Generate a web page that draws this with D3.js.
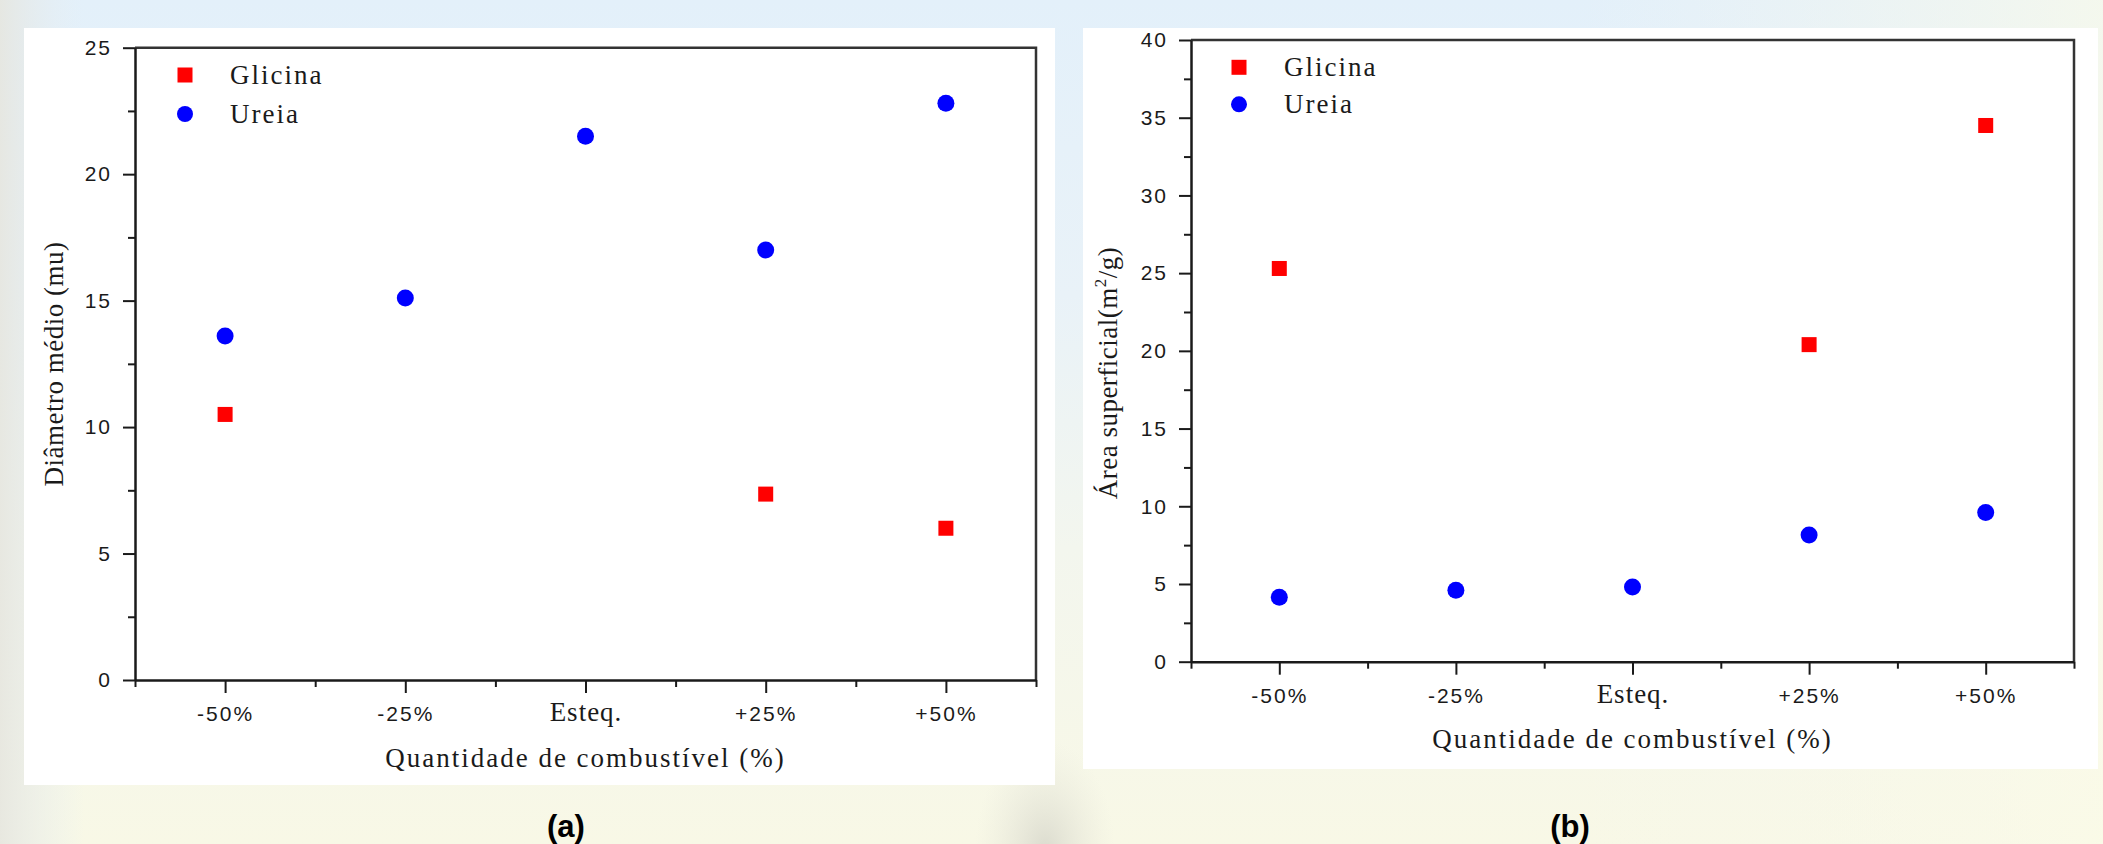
<!DOCTYPE html>
<html>
<head>
<meta charset="utf-8">
<script src="https://cdn.jsdelivr.net/npm/d3@7/dist/d3.min.js"></script>
<style>
  html, body { margin: 0; padding: 0; overflow: hidden; }
  svg { display: block; }
</style>
</head>
<body>
<script>
// ---------------- data ----------------
const categories = ["-50%", "-25%", "Esteq.", "+25%", "+50%"];
const seriesNames = ["Glicina", "Ureia"];
// (a) Diâmetro médio (nm)
const diamGlicina = [10.5, null, null, 7.35, 6.0];
const diamUreia   = [13.6, 15.1, 21.5, 17.0, 22.8];
// (b) Área superficial (m²/g)
const areaGlicina = [25.3, null, null, 20.4, 34.5];
const areaUreia   = [4.15, 4.6, 4.8, 8.15, 9.6];
// tick labels
const yTicksA = [0, 5, 10, 15, 20, 25];
const yTicksB = [0, 5, 10, 15, 20, 25, 30, 35, 40];
const xTitle = "Quantidade de combustível (%)";
const yTitleA = "Diâmetro médio (mu)";
const panelLabels = ["(a)", "(b)"];

// ---------------- layout ----------------
const W = 2103, H = 844;
const svg = d3.select("body").append("svg").attr("width", W).attr("height", H);
const defs = svg.append("defs");

// background
const bg = defs.append("linearGradient").attr("id", "bgv").attr("x1", 0).attr("y1", 0).attr("x2", 0).attr("y2", 1);
[["0%", "#e3f0fa"], ["35%", "#e9f2f8"], ["65%", "#f3f6ee"], ["100%", "#f8f8e6"]].forEach(s =>
  bg.append("stop").attr("offset", s[0]).attr("stop-color", s[1]));
const bgh = defs.append("linearGradient").attr("id", "bgh").attr("x1", 0).attr("y1", 0).attr("x2", 1).attr("y2", 0);
[["0%", "#e6e6df", 0.9], ["4%", "#e6eef2", 0.0], ["75%", "#f6f6ee", 0.0], ["100%", "#fbfbe8", 0.7]].forEach(s =>
  bgh.append("stop").attr("offset", s[0]).attr("stop-color", s[1]).attr("stop-opacity", s[2]));
const rg = defs.append("radialGradient").attr("id", "gray").attr("cx", 0.5).attr("cy", 0.5).attr("r", 0.5);
rg.append("stop").attr("offset", "0%").attr("stop-color", "#d8d8cc").attr("stop-opacity", 0.9);
rg.append("stop").attr("offset", "100%").attr("stop-color", "#e8e8dc").attr("stop-opacity", 0);

svg.append("rect").attr("width", W).attr("height", H).attr("fill", "url(#bgv)");
svg.append("rect").attr("width", W).attr("height", H).attr("fill", "url(#bgh)");
svg.append("ellipse").attr("cx", 1045).attr("cy", 850).attr("rx", 70).attr("ry", 110).attr("fill", "url(#gray)");

const panels = [
  { box: [24, 28, 1055, 785], plot: { left: 135, right: 1036, top: 47.7, bottom: 680 },
    yMax: 25, yTicks: yTicksA, glic: diamGlicina, ure: diamUreia,
    yTitle: [{ t: yTitleA }], yTitleX: 63, yTitleY: 364,
    legend: { x: 185, y1: 75, y2: 114, tx: 230 }, label: panelLabels[0], labelX: 566 },
  { box: [1083, 28, 2098, 769], plot: { left: 1191, right: 2074, top: 40, bottom: 661.7 },
    yMax: 40, yTicks: yTicksB, glic: areaGlicina, ure: areaUreia,
    yTitle: null, yTitleX: 1117, yTitleY: 373,
    legend: { x: 1239, y1: 67.3, y2: 104.3, tx: 1284 }, label: panelLabels[1], labelX: 1570 }
];

const serif = "'Liberation Serif', 'Times New Roman', serif";
const sans = "'Liberation Sans', Arial, sans-serif";
const ink = "#1a1a1a";

panels.forEach((p, pi) => {
  const g = svg.append("g");
  g.append("rect").attr("x", p.box[0]).attr("y", p.box[1])
    .attr("width", p.box[2] - p.box[0]).attr("height", p.box[3] - p.box[1]).attr("fill", "#ffffff");

  const x = d3.scaleLinear().domain([-0.5, categories.length - 0.5]).range([p.plot.left, p.plot.right]);
  const y = d3.scaleLinear().domain([0, p.yMax]).range([p.plot.bottom, p.plot.top]);

  // frame (top & right)
  g.append("path")
    .attr("d", `M${p.plot.left},${p.plot.top}H${p.plot.right}V${p.plot.bottom}`)
    .attr("fill", "none").attr("stroke", "#333").attr("stroke-width", 2.5);

  // x minor ticks
  const xMinorVals = d3.range(-0.5, categories.length, 1);
  g.append("g").attr("transform", `translate(0,${p.plot.bottom})`)
    .call(d3.axisBottom(x).tickValues(xMinorVals).tickSize(7).tickSizeOuter(0).tickFormat(""))
    .call(a => a.select(".domain").remove())
    .selectAll("line").attr("stroke", ink).attr("stroke-width", 2);
  // x major ticks & labels
  const xa = g.append("g").attr("transform", `translate(0,${p.plot.bottom})`)
    .call(d3.axisBottom(x).tickValues(d3.range(categories.length)).tickSize(13).tickSizeOuter(0)
      .tickFormat(i => categories[i]));
  xa.select(".domain").attr("stroke", ink).attr("stroke-width", 2.5);
  xa.selectAll("line").attr("stroke", ink).attr("stroke-width", 2);
  xa.selectAll("text")
    .attr("y", 41).attr("dy", 0).attr("fill", ink)
    .style("font-family", (d, i) => /\d/.test(categories[d]) ? sans : serif)
    .style("font-size", (d) => /\d/.test(categories[d]) ? "21px" : "27px")
    .style("letter-spacing", (d) => /\d/.test(categories[d]) ? "2px" : "1px");

  // y minor ticks
  const yMinorVals = d3.range(2.5, p.yMax, 5);
  g.append("g").attr("transform", `translate(${p.plot.left},0)`)
    .call(d3.axisLeft(y).tickValues(yMinorVals).tickSize(7).tickSizeOuter(0).tickFormat(""))
    .call(a => a.select(".domain").remove())
    .selectAll("line").attr("stroke", ink).attr("stroke-width", 2);
  // y major
  const ya = g.append("g").attr("transform", `translate(${p.plot.left},0)`)
    .call(d3.axisLeft(y).tickValues(p.yTicks).tickSize(12).tickSizeOuter(0).tickPadding(11));
  ya.select(".domain").attr("stroke", ink).attr("stroke-width", 2.5);
  ya.selectAll("line").attr("stroke", ink).attr("stroke-width", 2);
  ya.selectAll("text").attr("fill", ink)
    .style("font-family", sans).style("font-size", "21px").style("letter-spacing", "2px");

  // x title
  g.append("text").attr("x", (p.plot.left + p.plot.right) / 2).attr("y", p.plot.bottom + 86.5)
    .attr("text-anchor", "middle").attr("fill", ink)
    .style("font-family", serif).style("font-size", "27px").style("letter-spacing", "2px")
    .text(xTitle);

  // y title
  const yt = g.append("text")
    .attr("transform", `translate(${p.yTitleX},${p.yTitleY}) rotate(-90)`)
    .attr("text-anchor", "middle").attr("fill", ink)
    .style("font-family", serif).style("font-size", "27px").style("letter-spacing", "0.5px");
  if (pi === 0) {
    yt.text(yTitleA);
  } else {
    yt.append("tspan").text("Área superficial(m");
    yt.append("tspan").attr("dy", -11).style("font-size", "17px").text("2");
    yt.append("tspan").attr("dy", 11).text("/g)");
  }

  // markers
  const gData = p.glic.map((v, i) => ({ i, v })).filter(d => d.v != null);
  const uData = p.ure.map((v, i) => ({ i, v })).filter(d => d.v != null);
  const sq = 15;
  g.selectAll(".glic").data(gData).join("rect").attr("class", "glic")
    .attr("x", d => x(d.i) - sq / 2).attr("y", d => y(d.v) - sq / 2)
    .attr("width", sq).attr("height", sq).attr("fill", "#ff0000");
  g.selectAll(".ure").data(uData).join("circle").attr("class", "ure")
    .attr("cx", d => x(d.i)).attr("cy", d => y(d.v)).attr("r", 8.5).attr("fill", "#0000ff");

  // legend
  const L = p.legend;
  g.append("rect").attr("x", L.x - sq / 2).attr("y", L.y1 - sq / 2).attr("width", sq).attr("height", sq).attr("fill", "#ff0000");
  g.append("circle").attr("cx", L.x).attr("cy", L.y2).attr("r", 8).attr("fill", "#0000ff");
  [L.y1, L.y2].forEach((yy, k) => {
    g.append("text").attr("x", L.tx).attr("y", yy + 9).attr("fill", ink)
      .style("font-family", serif).style("font-size", "27px").style("letter-spacing", "2px")
      .text(seriesNames[k]);
  });

  // panel label
  svg.append("text").attr("x", p.labelX).attr("y", 837).attr("text-anchor", "middle")
    .attr("fill", "#000").style("font-family", sans).style("font-weight", "bold").style("font-size", "31px")
    .text(p.label);
});
</script>
</body>
</html>
